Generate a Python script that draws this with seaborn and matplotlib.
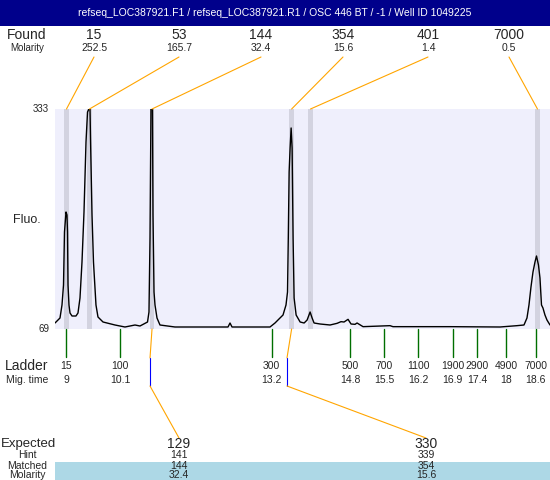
import matplotlib
matplotlib.use("Agg")
import matplotlib.pyplot as plt
from matplotlib.patches import Rectangle
import pandas as pd
import seaborn as sns

TITLE = "refseq_LOC387921.F1 / refseq_LOC387921.R1 / OSC 446 BT / -1 / Well ID 1049225"

# electropherogram trace (migration time, fluorescence)
TRACE_TIME = [
    8.769, 8.871, 8.912, 8.943, 8.963, 8.994, 9.014, 9.025, 9.035, 9.055,
    9.076, 9.117, 9.198, 9.239, 9.280, 9.321, 9.362, 9.403, 9.434, 9.464,
    9.485, 9.495, 9.526, 9.556, 9.607, 9.648, 9.751, 9.996, 10.200, 10.405,
    10.507, 10.661, 10.691, 10.712, 10.722, 10.732, 10.763, 10.773, 10.794,
    10.814, 10.855, 10.916, 11.223, 11.734, 12.307, 12.348, 12.389, 12.961,
    13.166, 13.268, 13.370, 13.432, 13.493, 13.524, 13.540, 13.557, 13.577,
    13.598, 13.618, 13.638, 13.659, 13.700, 13.782, 13.864, 13.925, 13.986,
    14.027, 14.067, 14.190, 14.394, 14.537, 14.618, 14.680, 14.762, 14.823,
    14.905, 14.946, 15.069, 15.620, 15.681, 16.847, 17.869, 18.217, 18.360,
    18.421, 18.462, 18.503, 18.544, 18.585, 18.616, 18.656, 18.687, 18.718,
    18.748, 18.789, 18.830, 18.892,
]
TRACE_FLUO = [
    76.2, 82.2, 97.8, 121.8, 185.4, 209.4, 205.8, 185.4, 121.8, 97.8,
    88.2, 84.6, 84.6, 88.2, 106.2, 149.4, 209.4, 293.4, 329.4, 333.0,
    333.0, 298.2, 205.8, 149.4, 97.8, 83.4, 77.4, 73.8, 71.4, 73.8,
    72.6, 77.4, 89.4, 178.2, 257.4, 333.0, 333.0, 205.8, 113.4,
    97.8, 82.2, 73.8, 71.4, 71.4, 71.4, 76.2, 71.4, 71.4,
    71.4, 76.2, 82.2, 85.8, 97.8, 113.4, 178.2, 257.4, 286.2,
    310.2, 286.2, 178.2, 106.2, 85.8, 77.4, 76.2, 79.8, 89.4,
    82.2, 76.2, 75.0, 73.8, 75.8, 77.8, 77.4, 80.6, 75.0,
    74.6, 76.2, 71.8, 73.0, 71.8, 71.8, 71.4, 73.0, 73.8,
    82.2, 97.8, 119.4, 137.4, 149.4, 156.6, 145.8, 130.2, 97.8,
    94.2, 85.8, 79.8, 73.8,
]
FLUO_MIN, FLUO_MAX = 69, 333
TIME_MIN, TIME_MAX = 8.769, 18.892

# found peaks
FOUND_SIZE = ["15", "53", "144", "354", "401", "7000"]
FOUND_MOLARITY = ["252.5", "165.7", "32.4", "15.6", "1.4", "0.5"]
FOUND_TIME = [9.004, 9.474, 10.753, 13.608, 13.994, 18.636]

# ladder
LADDER_SIZE = ["15", "100", "300", "500", "700", "1100", "1900", "2900", "4900", "7000"]
LADDER_TIME = [9, 10.1, 13.2, 14.8, 15.5, 16.2, 16.9, 17.4, 18, 18.6]

# expected products
EXPECTED = ["129", "330"]
HINT = ["141", "339"]
MATCHED = ["144", "354"]
MATCHED_MOLARITY = ["32.4", "15.6"]
MATCHED_TIME = [10.753, 13.608]
HINT_TIME = [10.712, 13.513]

# layout (pixels)
W, H = 550, 480
FOUND_LABEL_X = [94, 179, 261, 343, 428, 509]
EXPECTED_LABEL_X = [179, 426]

NAVY = "#00008b"
BG = "#efeffc"
BAND = "#d3d3e0"
ORANGE = "#ffa500"
GREEN = "#006f00"
BLUE = "#0000ff"
LIGHTBLUE = "#add8e6"

sns.set_style("white")
plt.rcParams["font.family"] = ["Liberation Sans", "DejaVu Sans"]

fig = plt.figure(figsize=(W / 100, H / 100), dpi=100)
ax = fig.add_axes([55 / W, 1 - 329 / H, 495 / W, 220 / H])
ax.set_facecolor(BG)

for t in FOUND_TIME:
    ax.axvspan(t - 0.05, t + 0.05, color=BAND, lw=0, zorder=1)

trace = pd.DataFrame({"time": TRACE_TIME, "fluo": TRACE_FLUO})
sns.lineplot(data=trace, x="time", y="fluo", ax=ax, color="black",
             lw=1.0, estimator=None, sort=False, zorder=3)
ax.set_xlim(TIME_MIN, TIME_MAX)
ax.set_ylim(FLUO_MIN, FLUO_MAX)
ax.set_xticks([])
ax.set_yticks([])
ax.set_xlabel("")
ax.set_ylabel("")
for s in ax.spines.values():
    s.set_visible(False)

ytr = ax.get_yaxis_transform()
ax.text(-0.012, FLUO_MAX, str(FLUO_MAX), transform=ytr, ha="right", va="center", fontsize=7)
ax.text(-0.012, FLUO_MIN, str(FLUO_MIN), transform=ytr, ha="right", va="center", fontsize=7)

# overlay in pixel coordinates for the annotation rows
ov = fig.add_axes([0, 0, 1, 1], zorder=5)
ov.set_xlim(0, W)
ov.set_ylim(H, 0)
ov.axis("off")


def px(t):
    return ax.transData.transform((t, FLUO_MIN))[0]


ov.add_patch(Rectangle((0, 0), W, 26, color=NAVY, lw=0))
ov.text(W / 2, 13, TITLE, color="white", ha="center", va="center", fontsize=7.5)

ov.text(27, 220, "Fluo.", ha="center", va="center", fontsize=9)

# found row
ov.text(27, 35, "Found", ha="center", va="center", fontsize=10)
ov.text(27, 48, "Molarity", ha="center", va="center", fontsize=7)
for lx, size, mol, t in zip(FOUND_LABEL_X, FOUND_SIZE, FOUND_MOLARITY, FOUND_TIME):
    ov.text(lx, 35, size, ha="center", va="center", fontsize=10)
    ov.text(lx, 48, mol, ha="center", va="center", fontsize=7.5)
    ov.plot([lx, px(t)], [57, 109], color=ORANGE, lw=0.8)

# ladder row
ov.text(27, 366, "Ladder", ha="center", va="center", fontsize=10)
ov.text(27, 380, "Mig. time", ha="center", va="center", fontsize=7.5)
for size, t in zip(LADDER_SIZE, LADDER_TIME):
    x = px(t)
    ov.plot([x, x], [329, 357], color=GREEN, lw=1)
    ov.text(x, 366, size, ha="center", va="center", fontsize=7.5)
    ov.text(x, 380, f"{t:g}", ha="center", va="center", fontsize=7.5)

# expected / matched rows
ov.add_patch(Rectangle((55, 462), W - 55, H - 462, color=LIGHTBLUE, lw=0))
ov.text(1, 444, "Expected", ha="left", va="center", fontsize=9.5)
ov.text(27, 455, "Hint", ha="center", va="center", fontsize=7.5)
ov.text(27, 466, "Matched", ha="center", va="center", fontsize=7.5)
ov.text(27, 475.5, "Molarity", ha="center", va="center", fontsize=7.5)
for lx, exp, hint, mat, mol, tm, th in zip(EXPECTED_LABEL_X, EXPECTED, HINT, MATCHED,
                                           MATCHED_MOLARITY, MATCHED_TIME, HINT_TIME):
    xm, xh = px(tm), px(th)
    ov.plot([xm, xh], [329, 358], color=ORANGE, lw=0.8)
    ov.plot([xh, xh], [358, 386], color=BLUE, lw=0.8)
    ov.plot([xh, lx], [386, 438], color=ORANGE, lw=0.8)
    ov.text(lx, 444, exp, ha="center", va="center", fontsize=10)
    ov.text(lx, 455, hint, ha="center", va="center", fontsize=7.5)
    ov.text(lx, 466, mat, ha="center", va="center", fontsize=7.5)
    ov.text(lx, 475.5, mol, ha="center", va="center", fontsize=7.5)

fig.savefig("out.png", dpi=100)
